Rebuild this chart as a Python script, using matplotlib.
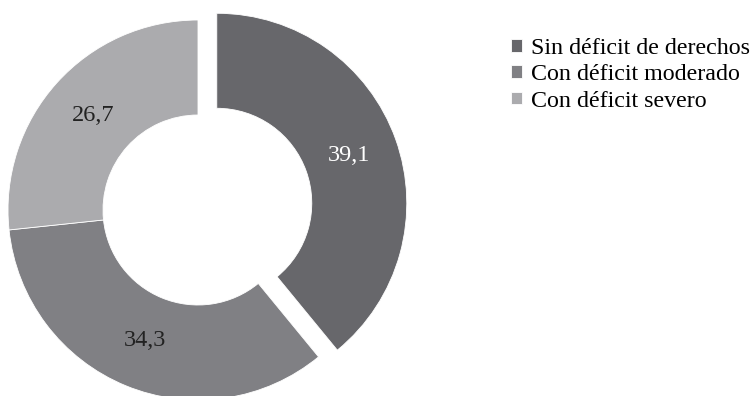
import matplotlib
matplotlib.use('Agg')
import matplotlib.pyplot as plt

labels = ['Sin déficit de derechos', 'Con déficit moderado', 'Con déficit severo']
values = [39.1, 34.3, 26.7]
colors = ['#67676b', '#808084', '#ababae']
label_colors = ['white', '#222222', '#222222']

plt.rcParams['font.family'] = ['Liberation Serif', 'DejaVu Serif']

fig = plt.figure(figsize=(7.51, 3.96), dpi=100)
ax = fig.add_axes([0, 0, 1, 1])

wedges, texts, autotexts = ax.pie(
    values, colors=colors, startangle=90, counterclock=False,
    explode=[0.105, 0, 0], radius=1.0,
    wedgeprops=dict(width=0.5, edgecolor='white', linewidth=0.6),
    autopct=lambda p: ('%.1f' % p).replace('.', ','), pctdistance=0.74,
    textprops=dict(fontsize=17.5))
for t, c in zip(autotexts, label_colors):
    t.set_color(c)

# pixel-exact limits: center at (198, 210) px, radius 190 px
s = 190.0
ax.set_xlim(-198 / s, (751 - 198) / s)
ax.set_ylim(-(396 - 210) / s, 210 / s)
ax.set_aspect('auto')
ax.axis('off')

ax.legend(wedges, labels, loc='upper left', bbox_to_anchor=(511 / 751, 1 - 38 / 396),
          bbox_transform=fig.transFigure, frameon=False, fontsize=17.3,
          handlelength=0.45, handleheight=0.45, handletextpad=0.38,
          labelspacing=0.22, borderpad=0, borderaxespad=0)

plt.savefig('out.png', dpi=100)
